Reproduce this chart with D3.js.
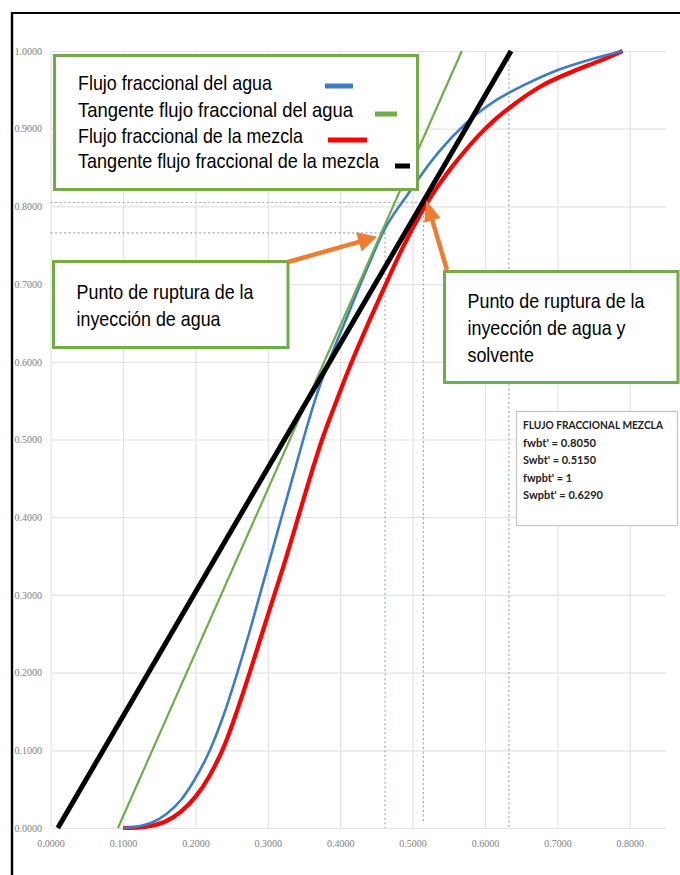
<!DOCTYPE html>
<html><head><meta charset="utf-8">
<script src="https://cdn.jsdelivr.net/npm/d3@7"></script>
<style>body{margin:0;background:#fff} svg{display:block}</style>
</head><body>
<svg id="c" width="680" height="875"></svg>
<script>
// ---- data ----
const swAgua = [0.100,0.120,0.140,0.160,0.180,0.200,0.220,0.240,0.258,0.274,0.289,0.304,0.319,0.334,0.349,0.365,0.384,0.406,0.428,0.444,0.460,0.474,0.490,0.510,0.538,0.575,0.616,0.658,0.699,0.749,0.790];
const fwAgua = [0.000,0.002,0.007,0.018,0.036,0.064,0.100,0.148,0.200,0.250,0.300,0.350,0.400,0.450,0.500,0.550,0.600,0.650,0.700,0.735,0.768,0.790,0.811,0.838,0.872,0.908,0.937,0.958,0.975,0.990,1.000];
const swMezcla = [0.100,0.120,0.140,0.160,0.180,0.200,0.220,0.240,0.258,0.275,0.292,0.309,0.326,0.342,0.358,0.375,0.395,0.416,0.439,0.463,0.488,0.502,0.517,0.532,0.552,0.572,0.593,0.613,0.634,0.676,0.722,0.760,0.790];
const fwMezcla = [0.000,0.0005,0.003,0.009,0.021,0.040,0.068,0.106,0.152,0.200,0.250,0.300,0.350,0.400,0.450,0.500,0.550,0.600,0.650,0.700,0.750,0.775,0.800,0.822,0.848,0.871,0.893,0.911,0.927,0.954,0.974,0.988,1.000];
const swTanAgua = [0.093, 0.568];
const fwTanAgua = [0.000, 1.000];
const swTanMezcla = [0.010, 0.636];
const fwTanMezcla = [0.000, 1.000];
// breakthrough reference points [sw, fw]
const btAgua = [0.462, 0.766];
const btMezcla = [0.515, 0.805];
const swPbt = 0.633;
const xTicks = [0.0,0.1,0.2,0.3,0.4,0.5,0.6,0.7,0.8];
const yTicks = [0.0,0.1,0.2,0.3,0.4,0.5,0.6,0.7,0.8,0.9,1.0];
const legendLabels = ["Flujo fraccional del agua","Tangente flujo fraccional del agua","Flujo fraccional de la mezcla","Tangente flujo fraccional de la mezcla"];
const legendColors = ["#3D7CC9","#70AD47","#FF0000","#000000"];
const note1 = ["Punto de ruptura de la","inyección de agua"];
const note2 = ["Punto de ruptura de la","inyección de agua y","solvente"];
const infoLines = ["FLUJO FRACCIONAL MEZCLA","fwbt' = 0.8050","Swbt' = 0.5150","fwpbt' = 1","Swpbt' = 0.6290"];

// ---- layout ----
const svg = d3.select("#c");
const x = d3.scaleLinear().domain([0, 0.85]).range([50.6, 666]);
const y = d3.scaleLinear().domain([0, 1]).range([828, 51]);
const fmt = d3.format(".4f");
const narrow = "'Liberation Sans Narrow','Arial Narrow','Liberation Sans',Arial,sans-serif";

// gridlines
svg.append("g").attr("transform","translate(0,828)")
  .call(d3.axisBottom(x).tickValues(xTicks).tickSize(-(828-51)).tickFormat(""))
  .call(g=>g.select(".domain").remove())
  .call(g=>g.selectAll("line").attr("stroke","#e3e3e3").attr("stroke-width",1.2));
svg.append("g").attr("transform","translate(52,0)")
  .call(d3.axisLeft(y).tickValues(yTicks).tickSize(-(666-52)).tickFormat(""))
  .call(g=>g.select(".domain").remove())
  .call(g=>g.selectAll("line").attr("stroke","#e3e3e3").attr("stroke-width",1.2));

// tick labels
const xa = svg.append("g").attr("transform","translate(0,828)")
  .call(d3.axisBottom(x).tickValues(xTicks).tickSize(0).tickPadding(12).tickFormat(fmt));
xa.select(".domain").remove();
xa.selectAll("text").attr("font-family","'Liberation Serif','DejaVu Serif',serif").attr("font-size",10).attr("fill","#808080");
const ya = svg.append("g").attr("transform","translate(52,0)")
  .call(d3.axisLeft(y).tickValues(yTicks).tickSize(0).tickPadding(10).tickFormat(fmt));
ya.select(".domain").remove();
ya.selectAll("text").attr("font-family","'Liberation Serif','DejaVu Serif',serif").attr("font-size",10).attr("fill","#808080");

// dotted reference lines
const dot = {stroke:"#8EA9DB", "stroke-width":1.2, "stroke-dasharray":"2,2.5", fill:"none"};
function seg(x1,y1,x2,y2,st){const l=svg.append("line").attr("x1",x1).attr("y1",y1).attr("x2",x2).attr("y2",y2);for(const k in st)l.attr(k,st[k]);return l;}
seg(x(0),y(btMezcla[1]),x(btMezcla[0]),y(btMezcla[1]),dot);
seg(x(0),y(btAgua[1]),x(btAgua[0]),y(btAgua[1]),dot);
seg(x(btAgua[0]),y(btAgua[1]),x(btAgua[0]),y(0),dot);
seg(x(btMezcla[0]),y(btMezcla[1]),x(btMezcla[0]),y(0.006),dot);
seg(x(swPbt),y(1),x(swPbt),y(0),dot);

// curves
const line = d3.line().x(d=>x(d[0])).y(d=>y(d[1])).curve(d3.curveMonotoneX);
const straight = d3.line().x(d=>x(d[0])).y(d=>y(d[1]));
const zip = (a,b)=>a.map((v,i)=>[v,b[i]]);
svg.append("path").attr("d",line(zip(swMezcla,fwMezcla))).attr("fill","none").attr("stroke","#FF0000").attr("stroke-width",4.2);
svg.append("path").attr("d",line(zip(swAgua,fwAgua))).attr("fill","none").attr("stroke","#3D7CC9").attr("stroke-width",2.6);
svg.append("path").attr("d",straight(zip(swTanAgua,fwTanAgua))).attr("fill","none").attr("stroke","#70AD47").attr("stroke-width",2.2);
svg.append("path").attr("d",straight(zip(swTanMezcla,fwTanMezcla))).attr("fill","none").attr("stroke","#000").attr("stroke-width",5);

// legend box
const green = "#70AD47";
svg.append("rect").attr("x",54.5).attr("y",55.5).attr("width",363).attr("height",134).attr("fill","#fff").attr("stroke",green).attr("stroke-width",3);
svg.append("clipPath").attr("id","lc").append("rect").attr("x",55).attr("y",55).attr("width",362).attr("height",117.5);
const lw = [194,275,225,301];
const lb = [90,117,143,168];
legendLabels.forEach((t,i)=>{
  const tx = svg.append("text").attr("x",78).attr("y",lb[i]).text(t)
    .attr("font-family",narrow).attr("font-size",21).attr("fill","#000")
    .attr("textLength",lw[i]).attr("lengthAdjust","spacingAndGlyphs");
  if(i===3) tx.attr("clip-path","url(#lc)");
});
const mk = [[325,353,86],[375,397,114],[328,367,140],[395,410,166]];
mk.forEach((m,i)=>seg(m[0],m[2],m[1],m[2],{stroke:legendColors[i],"stroke-width":5}));

// annotation boxes
function note(x0,y0,w,h,lines,bases,widths){
  svg.append("rect").attr("x",x0).attr("y",y0).attr("width",w).attr("height",h).attr("fill","#fff").attr("stroke",green).attr("stroke-width",3);
  lines.forEach((t,i)=>svg.append("text").attr("x",x0+23).attr("y",bases[i]).text(t)
    .attr("font-family",narrow).attr("font-size",21).attr("fill","#000")
    .attr("textLength",widths[i]).attr("lengthAdjust","spacingAndGlyphs"));
}
note(53.5,261.5,234.5,86,note1,[299,326],[177,144]);
note(444.5,271.5,233.5,111,note2,[308,335,362],[177,158,66.5]);

// arrows
const orange = "#ED7D31";
function arrow(x1,y1,x2,y2,len,wid){
  const a = Math.atan2(y2-y1,x2-x1), c=Math.cos(a), s=Math.sin(a);
  const bx = x2-len*c, by = y2-len*s;
  seg(x1,y1,bx+2*c,by+2*s,{stroke:orange,"stroke-width":4.5});
  svg.append("path").attr("d",`M${x2},${y2}L${bx-wid/2*s},${by+wid/2*c}L${bx+wid/2*s},${by-wid/2*c}Z`).attr("fill",orange);
}
arrow(288,262,x(0.451),y(0.761),19,20);
arrow(447,270,x(0.519),y(0.808),21,17);

// info box
svg.append("rect").attr("x",516.5).attr("y",411.5).attr("width",161).attr("height",114).attr("fill","#fff").attr("stroke","#c4c4c4").attr("stroke-width",1.2);
const iw = [140,73,73,49,80];
const ib = [429,446.7,464,481.7,499];
infoLines.forEach((t,i)=>svg.append("text").attr("x",523).attr("y",ib[i]).text(t)
  .attr("font-family","Lato,'Open Sans',sans-serif").attr("font-weight","bold").attr("font-size",11.2).attr("fill","#222")
  .attr("textLength",iw[i]).attr("lengthAdjust","spacingAndGlyphs"));

// outer frame (top and left edges)
seg(11,13,680,13,{stroke:"#000","stroke-width":2.2});
seg(12,12,12,875,{stroke:"#000","stroke-width":2.4});
</script>
</body></html>
